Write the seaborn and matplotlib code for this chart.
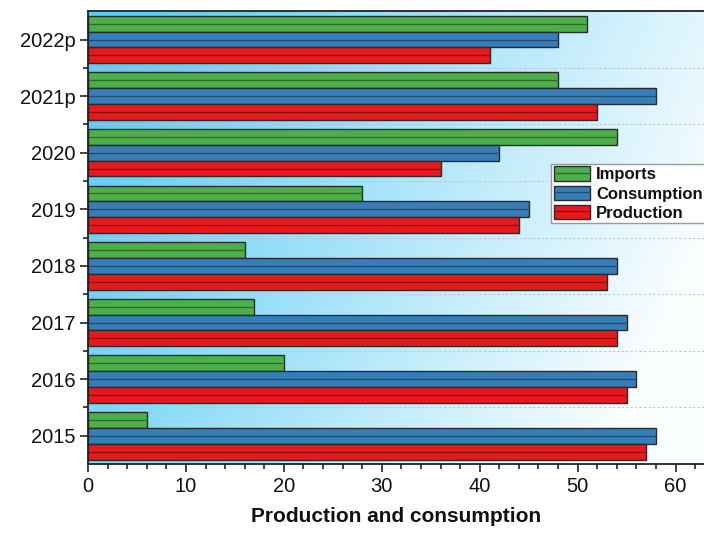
import numpy as np
import pandas as pd
import seaborn as sns
import matplotlib.pyplot as plt
import matplotlib.colors as mcolors
from matplotlib.patches import Patch
from matplotlib.lines import Line2D
from matplotlib.ticker import MultipleLocator

years = ['2015', '2016', '2017', '2018', '2019', '2020', '2021p', '2022p']
imports = [6, 20, 17, 16, 28, 54, 48, 51]
consumption = [58, 56, 55, 54, 45, 42, 58, 48]
production = [57, 55, 54, 53, 44, 36, 52, 41]
series = ['Imports', 'Consumption', 'Production']
colors = ['#4daf4a', '#377eb8', '#e41a1c']

sns.set_style('ticks')
plt.rcParams['font.family'] = ['Liberation Sans', 'DejaVu Sans']

df = pd.DataFrame({
    'year': years * 3,
    'value': imports + consumption + production,
    'series': [s for s in series for _ in years],
})

def darker(c, f=0.4):
    r, g, b = mcolors.to_rgb(c)
    return (r * (1 - f), g * (1 - f), b * (1 - f))

fig = plt.figure(figsize=(7.04, 5.34), dpi=100)
ax = fig.add_axes([0.125, 0.131, 0.875, 0.848])

sns.barplot(data=df, x='value', y='year', hue='series', order=years[::-1],
            hue_order=series, palette=colors, orient='h', width=0.84,
            saturation=1, errorbar=None, edgecolor='#2b2b2b', linewidth=1,
            legend=False, ax=ax)

# thin darker line through the middle of every bar
for p in list(ax.patches):
    if p.get_width() <= 0:
        continue
    yc = p.get_y() + p.get_height() / 2
    ax.plot([p.get_x(), p.get_x() + p.get_width()], [yc, yc],
            color=darker(p.get_facecolor()), lw=0.9, zorder=p.get_zorder() + 0.1)

xmax = 62.9

# gradient background
ny, nx = 200, 300
xf = np.linspace(0, 1, nx)[None, :]
yf = np.linspace(1, 0, ny)[:, None]
w = np.clip(0.78 - 0.9 * xf + 0.3 * yf, 0.03, 1)
base = np.array(mcolors.to_rgb('#5ccdf6'))
img = 1 - w[..., None] * (1 - base)
ax.imshow(img, extent=(0, xmax, len(years) - 0.5, -0.5), aspect='auto',
          origin='upper', zorder=-2, interpolation='bilinear')
ax.set_xlim(0, xmax)
ax.set_ylim(len(years) - 0.5, -0.5)

ax.xaxis.set_major_locator(MultipleLocator(10))
ax.xaxis.set_minor_locator(MultipleLocator(2))
ax.set_yticks(np.arange(0.5, len(years) - 0.5, 1), minor=True)
ax.grid(which='minor', axis='y', ls=(0, (2, 2)), color='#c4c4c4', lw=0.8)
ax.set_axisbelow(True)

ax.tick_params(which='major', direction='out', length=6, width=1.2,
               labelsize=14.5, color='#222222', labelcolor='#111111', pad=3)
ax.tick_params(which='minor', direction='out', length=3.5, width=1.2,
               color='#222222')
for side in ['left', 'bottom', 'top']:
    ax.spines[side].set_linewidth(1.3)
    ax.spines[side].set_color('#222222')
ax.spines['right'].set_visible(False)

ax.set_ylabel('')
ax.set_xlabel('Production and consumption', fontsize=15, fontweight='bold',
              labelpad=8, color='#111111')

handles = [(Patch(facecolor=c, edgecolor='#2b2b2b', lw=1),
            Line2D([0], [0], color=darker(c), lw=0.9)) for c in colors]
leg = ax.legend(handles, series, loc='upper left', bbox_to_anchor=(0.752, 0.663),
                prop={'weight': 'bold', 'size': 12}, frameon=True, fancybox=False,
                edgecolor='#999999', framealpha=1, borderpad=0.15,
                labelspacing=0.2, handlelength=2.15, handleheight=0.96,
                handletextpad=0.4, borderaxespad=0)
leg.get_frame().set_linewidth(1)
for t in leg.get_texts():
    t.set_color('#111111')

fig.savefig('out.png', dpi=100, facecolor='white')
